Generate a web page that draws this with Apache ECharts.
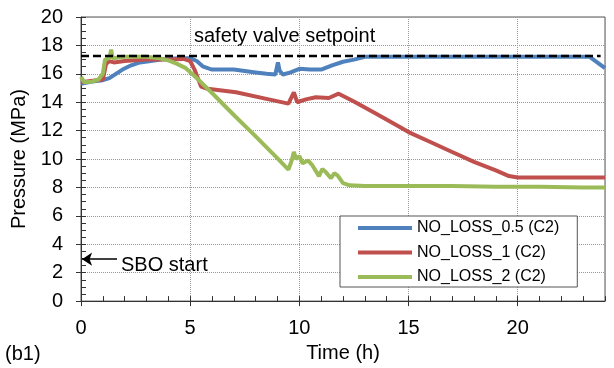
<!DOCTYPE html>
<html>
<head>
<meta charset="utf-8">
<script src="https://cdn.jsdelivr.net/npm/echarts@6/dist/echarts.min.js"></script>
<style>
  html, body { margin: 0; padding: 0; background: #fff; }
  #chart { width: 614px; height: 368px; }
</style>
</head>
<body>
<div id="chart"></div>
<script>
const FONT = "'Liberation Sans', Arial, sans-serif";

const seriesNames = ["NO_LOSS_0.5 (C2)", "NO_LOSS_1 (C2)", "NO_LOSS_2 (C2)"];
const seriesColors = ["#4f81bd", "#c0504d", "#9bbb59"];

// NO_LOSS_0.5
const timeLoss05 = [0, 0.5, 1.0, 1.3, 1.6, 1.9, 2.3, 2.7, 3.2, 3.8, 4.5, 5.0, 5.3, 5.6, 6.0, 6.5, 7.0, 7.5, 8.0, 8.5, 8.9, 9.02, 9.1, 9.25, 9.6, 10.0, 10.5, 11.0, 11.5, 12.0, 12.5, 13.0, 14, 15, 16, 17, 18, 19, 20, 21, 22, 23.3, 24];
const pressLoss05 = [15.3, 15.45, 15.55, 15.7, 16.0, 16.3, 16.6, 16.8, 16.9, 17.05, 17.1, 17.1, 16.9, 16.5, 16.3, 16.3, 16.3, 16.2, 16.1, 16.0, 15.95, 16.8, 16.2, 15.95, 16.1, 16.35, 16.3, 16.3, 16.6, 16.85, 17.0, 17.2, 17.2, 17.2, 17.2, 17.2, 17.2, 17.2, 17.2, 17.2, 17.2, 17.2, 16.4];

// NO_LOSS_1
const timeLoss1 = [0, 1.0, 1.15, 1.3, 1.5, 2, 3, 4, 4.7, 5.0, 5.2, 5.5, 5.8, 7.1, 8.6, 9.5, 9.75, 9.9, 10.3, 10.75, 11.35, 11.8, 12.5, 13.5, 14.5, 15, 16, 17, 18, 19, 19.6, 20, 21, 22, 23, 24];
const pressLoss1 = [15.4, 15.6, 16.7, 16.9, 16.8, 16.9, 17.0, 17.0, 17.05, 16.9, 16.3, 15.1, 14.95, 14.7, 14.2, 13.9, 14.7, 14.0, 14.2, 14.35, 14.3, 14.6, 14.05, 13.2, 12.35, 11.9, 11.2, 10.5, 9.8, 9.2, 8.8, 8.7, 8.7, 8.7, 8.7, 8.7];

// NO_LOSS_2
const timeLoss2 = [0, 0.15, 0.5, 0.8, 1.0, 1.1, 1.3, 1.38, 1.45, 2, 3, 3.6, 4.0, 4.4, 4.8, 5.2, 6, 7, 8, 9, 9.5, 9.65, 9.75, 9.85, 10.0, 10.15, 10.4, 10.6, 10.9, 11.05, 11.2, 11.45, 11.6, 11.75, 12.0, 12.3, 13, 15, 17, 19, 21, 23, 24];
const pressLoss2 = [15.8, 15.4, 15.45, 15.6, 16.0, 17.0, 17.1, 17.7, 17.1, 17.2, 17.2, 17.1, 16.95, 16.7, 16.4, 15.85, 14.65, 13.1, 11.6, 10.05, 9.25, 9.9, 10.5, 10.0, 10.2, 9.7, 9.9, 9.55, 8.8, 9.3, 9.1, 8.65, 9.0, 8.85, 8.3, 8.15, 8.1, 8.1, 8.1, 8.05, 8.05, 8.0, 8.0];

// safety valve setpoint and SBO start marker
const setpointTime = [0, 23.8];
const setpointPress = [17.25, 17.25];
const sboArrowTime = [1.65, 0.05];
const sboArrowPress = [2.95, 2.95];

const seriesTimes = [timeLoss05, timeLoss1, timeLoss2];
const seriesPress = [pressLoss05, pressLoss1, pressLoss2];

const chart = echarts.init(document.getElementById("chart"));

const lineSeries = seriesNames.map((name, i) => ({
  name: name,
  type: "line",
  data: seriesTimes[i].map((t, j) => [t, seriesPress[i][j]]),
  showSymbol: false,
  lineStyle: { width: 4, color: seriesColors[i] },
  itemStyle: { color: seriesColors[i] },
  z: 3 + i,
}));

const tickFont = { fontFamily: FONT, fontSize: 20, color: "#000" };

chart.setOption({
  animation: false,
  textStyle: { fontFamily: FONT },
  grid: {
    left: 81, right: 9, top: 17, bottom: 64,
    show: true, borderColor: "#555", borderWidth: 1,
  },
  legend: {
    data: seriesNames,
    orient: "vertical",
    left: 340, top: 216,
    padding: [4, 18, 2, 18],
    itemGap: 8.5,
    itemWidth: 54, itemHeight: 4,
    icon: "rect",
    backgroundColor: "#fff",
    borderColor: "#555", borderWidth: 1,
    textStyle: { fontFamily: FONT, fontSize: 16, color: "#000" },
  },
  xAxis: [
    {
      type: "value", min: 0, max: 24, interval: 5,
      name: "Time (h)", nameLocation: "middle", nameGap: 40,
      nameTextStyle: { fontFamily: FONT, fontSize: 20, color: "#000" },
      axisLine: { lineStyle: { color: "#333", width: 1 } },
      axisTick: { show: true, inside: false, length: 5, lineStyle: { color: "#333" } },
      axisLabel: Object.assign({ margin: 17, showMaxLabel: false }, tickFont),
      splitLine: { show: true, lineStyle: { color: "#999", type: "dotted" } },
    },
    {
      type: "value", min: 0, max: 24, interval: 1, position: "bottom",
      axisLine: { show: false },
      axisTick: { show: true, inside: true, length: 5, lineStyle: { color: "#333" } },
      axisLabel: { show: false },
      splitLine: { show: false },
    },
  ],
  yAxis: [
    {
      type: "value", min: 0, max: 20, interval: 2,
      name: "Pressure (MPa)", nameLocation: "middle", nameGap: 39,
      nameTextStyle: { fontFamily: FONT, fontSize: 20, color: "#000" },
      axisLine: { show: true, lineStyle: { color: "#333", width: 1 } },
      axisTick: { show: true, inside: false, length: 5, lineStyle: { color: "#333" } },
      axisLabel: Object.assign({ margin: 18 }, tickFont),
      splitLine: { show: true, lineStyle: { color: "#999", type: "dotted" } },
    },
    {
      type: "value", min: 0, max: 20, interval: 0.5, position: "left",
      axisLine: { show: false },
      axisTick: { show: true, inside: true, length: 5, lineStyle: { color: "#333" } },
      axisLabel: { show: false },
      splitLine: { show: false },
    },
  ],
  series: lineSeries.concat([
    {
      name: "setpoint",
      type: "line",
      data: setpointTime.map((t, j) => [t, setpointPress[j]]),
      showSymbol: false,
      lineStyle: { color: "#000", width: 2.5, type: [8, 4] },
      z: 10,
      markLine: {
        silent: true,
        symbol: ["none", "arrow"],
        symbolSize: 10,
        label: { show: false },
        lineStyle: { color: "#000", width: 1.5, type: "solid" },
        data: [[
          { coord: [sboArrowTime[0], sboArrowPress[0]] },
          { coord: [sboArrowTime[1], sboArrowPress[1]] },
        ]],
      },
    },
  ]),
  graphic: [
    { type: "text", left: 194, top: 26, style: { text: "safety valve setpoint", font: "20px " + FONT, fill: "#000" } },
    { type: "text", left: 121, top: 255, style: { text: "SBO start", font: "20px " + FONT, fill: "#000" } },
    { type: "text", left: 5, top: 344, style: { text: "(b1)", font: "20px " + FONT, fill: "#000" } },
  ],
});
</script>
</body>
</html>
